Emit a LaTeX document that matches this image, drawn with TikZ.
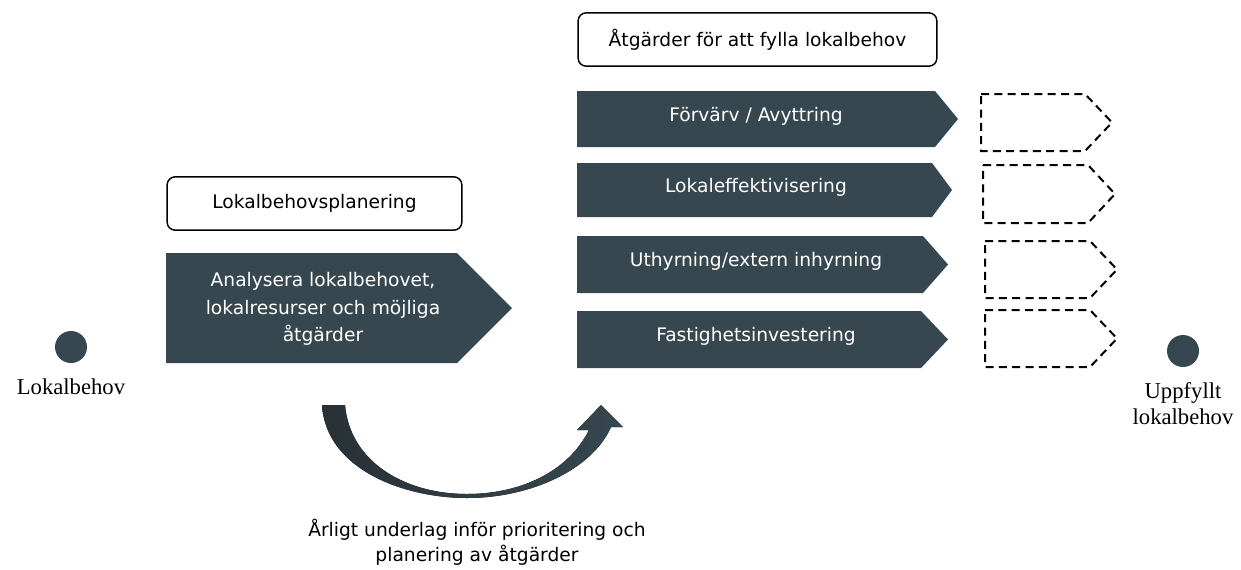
\documentclass[tikz,border=0pt]{standalone}
\usepackage{fontspec}
\setmainfont{Liberation Serif}
\setsansfont{DejaVu Sans}
\usetikzlibrary{positioning}
\definecolor{slate}{RGB}{55,71,79}
\definecolor{slatedark}{RGB}{40,49,54}
\begin{document}
\begin{tikzpicture}[x=0.75pt,y=-0.75pt,
	headbox/.style={draw,rounded corners=6pt,line width=1.1pt,font=\sffamily\fontsize{14}{20.6}\selectfont},
	bartext/.style={text=white,align=center,font=\sffamily\fontsize{14}{20.6}\selectfont},
	milestone/.style={circle,fill=slate,minimum size=24pt,inner sep=0pt},
	milelabel/.style={align=center,font=\fontsize{17}{19.5}\selectfont},
	dashbox/.style={line width=1.5pt,dash pattern=on 6pt off 4pt}]
	\useasboundingbox (0,0) rectangle (1241,569);
	% start and goal
	\node[milestone] (start) at (71,347) {};
	\node[milelabel,below=8pt of start] (startlabel) {Lokalbehov};
	\node[milestone] (goal) at (1183,351) {};
	\node[milelabel,below=8pt of goal] (goallabel) {Uppfyllt\\lokalbehov};
	% planning
	\node[headbox,minimum width=221pt,minimum height=40pt] (plan) at (314.5,203.5) {Lokalbehovsplanering};
	\fill[slate] (166,253) -- (457,253) -- (512,308) -- (457,363) -- (166,363) -- cycle;
	\node[bartext] (analys) at (323,309) {Analysera lokalbehovet,\\lokalresurser och möjliga\\åtgärder};
	% actions
	\node[headbox,minimum width=269pt,minimum height=40pt] (actions) at (757.5,39.5) {Åtgärder för att fylla lokalbehov};
	\foreach \t/\b/\e/\p/\txt [count=\i] in {91/147/935/958/{Förvärv / Avyttring},163/217/932/952/Lokaleffektivisering,236/293/923/948/{Uthyrning/extern inhyrning},311/368/921/948/Fastighetsinvestering}{
		\fill[slate] (577,\t) -- (\e,\t) -- (\p,{(\t+\b)/2}) -- (\e,\b) -- (577,\b) -- cycle;
		\node[bartext] (act\i) at (756,{(\t+\b)/2-3}) {\txt};
	}
	\foreach \t/\b/\l/\e/\p in {94/151/981/1085/1112,165/223/983/1088/1115,241/298/985/1090/1117,310/367/985/1090/1117}
		\draw[dashbox] (\l,\t) -- (\e,\t) -- (\p,{(\t+\b)/2}) -- (\e,\b) -- (\l,\b) -- cycle;
	% yearly loop
	\fill[left color=slatedark,right color=slate] (322,405) .. controls (326,470) and (405,498) .. (467,498)
		.. controls (530,498) and (592,470) .. (611,427) -- (623,427) -- (601,405) -- (577,430) -- (589,430)
		.. controls (568,472) and (520,494) .. (467,494) .. controls (405,494) and (350,462) .. (345,405) -- cycle;
	\node[bartext,text=black,font=\sffamily\fontsize{14}{19}\selectfont] (yearly) at (477,542) {Årligt underlag inför prioritering och\\planering av åtgärder};
\end{tikzpicture}
\end{document}
